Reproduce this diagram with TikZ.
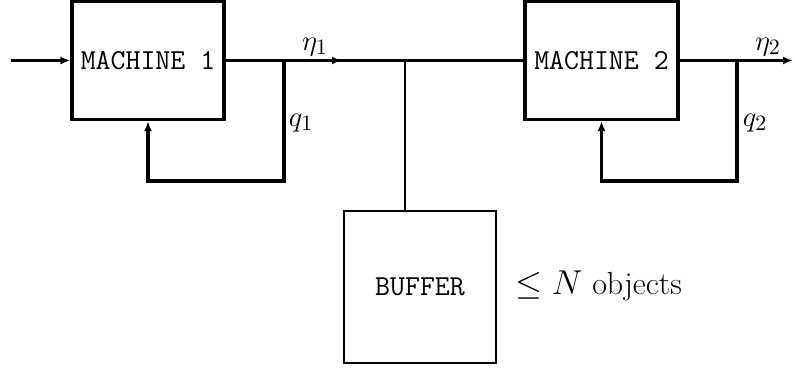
\documentclass[tikz,border=0pt]{standalone}
\usepackage{tikz}
\usetikzlibrary{arrows.meta,positioning}

\begin{document}
\begin{tikzpicture}[
        x=0.5pt, y=-0.5pt,
        font=\fontsize{15}{18}\selectfont,
        machine/.style={rectangle, draw, line width=1.6pt, minimum width=76pt, minimum height=59pt, inner sep=0pt, font=\fontsize{14.5}{17}\selectfont\ttfamily},
        store/.style={rectangle, draw, line width=1.2pt, minimum width=76pt, minimum height=76pt, inner sep=0pt, font=\fontsize{14.5}{17}\selectfont\ttfamily},
        flow/.style={line width=1.6pt},
        arrow/.style={-{Latex[length=5pt,width=4pt]}, line width=1.6pt},
        label/.style={inner sep=0pt}
    ]
        \useasboundingbox (0,0) rectangle (794,369);

        % Nodes
        \node[machine] (m1) at (148,60.5) {MACHINE 1};
        \node[machine, minimum width=76.5pt] (m2) at (601.5,60.5) {MACHINE 2};
        \node[store] (buffer) at (420,287) {BUFFER};
        \node[anchor=west, inner sep=0pt, font=\fontsize{16}{19}\selectfont] (cap) at (515,286) {$\leq N$ objects};

        % Junctions
        \coordinate (in) at (11,60.5);
        \coordinate (mid1) at (342,60.5);
        \coordinate (split) at (405,60.5);
        \coordinate (fb1) at (284,60.5);
        \coordinate (fb1low) at (284,181);
        \coordinate (fb2) at (737,60.5);
        \coordinate (fb2low) at (737,181);
        \coordinate (out) at (793,60.5);

        % Labels
        \node[label] (eta1) at (315,47) {$\eta_1$};
        \node[label] (q1) at (301,123) {$q_1$};
        \node[label] (eta2) at (768,47) {$\eta_2$};
        \node[label] (q2) at (755,123) {$q_2$};

        % Arrows
        \draw[arrow] (in) -- (m1);
        \draw[flow] (m1.east) -- (m2.west);
        \draw[arrow] (m1.east) -- (mid1);
        \draw[arrow] (m2.east) -- (out);
        \draw[arrow] (fb1) -- (fb1low) -| (m1.south);
        \draw[arrow] (fb2) -- (fb2low) -| (m2.south);
        \draw[line width=1.2pt] (split) -- (split |- buffer.north);

    \end{tikzpicture}
\end{document}
